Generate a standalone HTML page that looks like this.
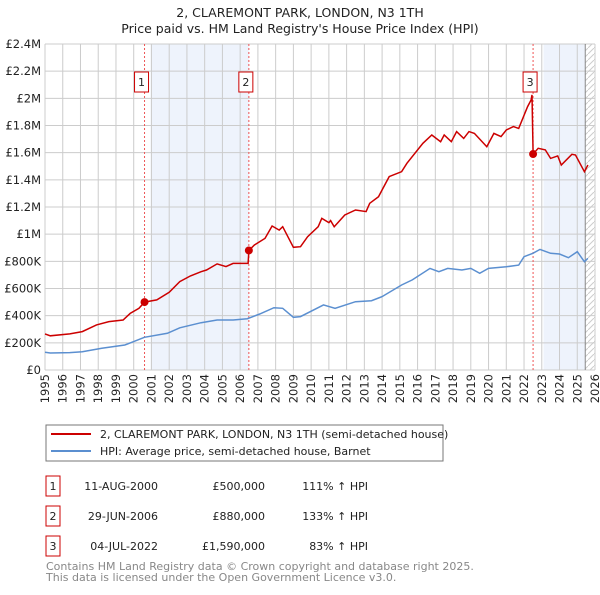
<!DOCTYPE html>
<html><head><meta charset="utf-8"><style>
body{margin:0;background:#fff;font-family:"Liberation Sans","DejaVu Sans",sans-serif;}
svg text{font-family:"DejaVu Sans","Liberation Sans",sans-serif;}
</style></head><body>
<svg id="c" width="600" height="590" xmlns="http://www.w3.org/2000/svg">
<defs><pattern id="hatch" width="6" height="6" patternUnits="userSpaceOnUse"><path d="M0,6 L6,0" stroke="#ccc" stroke-width="1"/></pattern></defs>
<text x="300" y="17" text-anchor="middle" font-size="12.5" fill="#222">2, CLAREMONT PARK, LONDON, N3 1TH</text>
<text x="300" y="33" text-anchor="middle" font-size="12.5" fill="#222">Price paid vs. HM Land Registry's House Price Index (HPI)</text>
<g id="plot"></g>
<g>
<rect x="46" y="425" width="397" height="36" fill="#fff" stroke="#777"/>
<line x1="51" y1="434" x2="91" y2="434" stroke="#cc0000" stroke-width="2"/>
<text x="100" y="438" font-size="11" fill="#222">2, CLAREMONT PARK, LONDON, N3 1TH (semi-detached house)</text>
<line x1="51" y1="451" x2="91" y2="451" stroke="#5b8fd0" stroke-width="2"/>
<text x="100" y="455" font-size="11" fill="#222">HPI: Average price, semi-detached house, Barnet</text>
</g>
<g id="table" font-size="11" fill="#222"></g>
<text x="46" y="570" font-size="11" fill="#888">Contains HM Land Registry data © Crown copyright and database right 2025.</text>
<text x="46" y="581" font-size="11" fill="#888">This data is licensed under the Open Government Licence v3.0.</text>
</svg>
<script>
const hpiYears=[1995,1995.3,1996.4,1997.1,1998.2,1999.5,2000,2000.6,2001.9,2002.6,2003.8,2004.7,2005.6,2006.4,2007.1,2007.9,2008.4,2009,2009.4,2010.7,2011.35,2012.5,2013.4,2014,2015.1,2015.7,2016.7,2017.2,2017.7,2018.5,2019,2019.5,2020,2021,2021.7,2022,2022.5,2022.9,2023.5,2024,2024.5,2025,2025.4,2025.6];
const hpiValues=[130,125,128,135,160,184,209,241,270,311,348,368,368,378,412,459,454,388,393,479,454,503,510,540,626,663,748,724,748,736,748,712,748,760,772,834,859,888,859,854,827,871,797,822];
const ppYears=[1995,1995.3,1996.4,1997.1,1997.9,1998.6,1999.4,1999.8,2000.3,2000.61,2001.3,2002,2002.6,2003.2,2003.8,2004.1,2004.7,2005.2,2005.6,2006.45,2006.49,2006.8,2007.4,2007.8,2008.2,2008.4,2009,2009.4,2009.8,2010.4,2010.6,2011,2011.1,2011.3,2011.9,2012.5,2013.1,2013.3,2013.8,2014.4,2015.1,2015.4,2016.3,2016.8,2017.3,2017.5,2017.9,2018.2,2018.6,2018.9,2019.2,2019.9,2020.3,2020.7,2021,2021.4,2021.7,2022.2,2022.4,2022.45,2022.51,2022.8,2023.2,2023.5,2023.9,2024.1,2024.7,2024.9,2025.4,2025.6];
const ppValues=[266,252,266,283,332,356,368,417,454,500,516,572,651,693,724,736,781,761,785,785,880,920,969,1060,1030,1055,903,908,981,1055,1117,1085,1100,1055,1141,1178,1166,1227,1276,1424,1460,1522,1669,1730,1681,1730,1681,1755,1705,1755,1742,1644,1742,1718,1767,1792,1779,1939,1988,2025,1590,1632,1620,1558,1576,1509,1588,1583,1460,1509];
const saleYears=[2000.61,2006.49,2022.51];
const saleValues=[500,880,1590];
const saleLabels=["1","2","3"];
const saleDates=["11-AUG-2000","29-JUN-2006","04-JUL-2022"];
const salePrices=["£500,000","£880,000","£1,590,000"];
const saleHpi=["111% ↑ HPI","133% ↑ HPI","83% ↑ HPI"];
const yTicks=[0,200,400,600,800,1000,1200,1400,1600,1800,2000,2200,2400];
const yTickLabels=["£0","£200K","£400K","£600K","£800K","£1M","£1.2M","£1.4M","£1.6M","£1.8M","£2M","£2.2M","£2.4M"];
const xTicks=[1995,1996,1997,1998,1999,2000,2001,2002,2003,2004,2005,2006,2007,2008,2009,2010,2011,2012,2013,2014,2015,2016,2017,2018,2019,2020,2021,2022,2023,2024,2025,2026];
const shadeStarts=[2000.95,2023.1];
const shadeEnds=[2006.49,2025.45];
const dataEnd=2025.45;

const NS="http://www.w3.org/2000/svg";
const L=45,R=595,T=44,B=370;
const xs=y=>L+(y-1995)/(2026-1995)*(R-L);
const ys=v=>B-v/2400*(B-T);
const plot=document.getElementById('plot');
function mk(tag,attrs,parent){const e=document.createElementNS(NS,tag);for(const k in attrs)e.setAttribute(k,attrs[k]);(parent||plot).appendChild(e);return e;}

let e;
shadeStarts.forEach((s,i)=>{
  e=mk('rect',{x:xs(s),y:T,width:xs(shadeEnds[i])-xs(s),height:B-T,fill:'#eef3fc'});
  
  
});
e=mk('rect',{x:xs(dataEnd),y:T,width:R-xs(dataEnd),height:B-T,fill:'url(#hatch)'});



yTicks.forEach((v,i)=>{
  e=mk('line',{x1:L,x2:R,y1:ys(v),y2:ys(v),stroke:'#cccccc','stroke-width':1});
  
  
  e=mk('text',{x:L-4,y:ys(v)+4,'text-anchor':'end','font-size':11.5,fill:'#222'});
  e.textContent=yTickLabels[i];
  
  
});
xTicks.forEach(y=>{
  e=mk('line',{x1:xs(y),x2:xs(y),y1:T,y2:B,stroke:'#cccccc','stroke-width':1});
  
  
  e=mk('text',{x:0,y:0,'text-anchor':'end','font-size':11.5,fill:'#222',transform:`translate(${xs(y)+4},${B+4}) rotate(-90)`});
  e.textContent=y;
  
  
});
e=mk('line',{x1:xs(dataEnd),x2:xs(dataEnd),y1:T,y2:B,stroke:'#888','stroke-width':1});



saleYears.forEach((y,i)=>{
  e=mk('line',{x1:xs(y),x2:xs(y),y1:T,y2:B,stroke:'#ee5555','stroke-width':1,'stroke-dasharray':'2,2'});
  
  
});

function pathOf(xa,va){return xa.map((y,i)=>(i?'L':'M')+xs(y).toFixed(1)+','+ys(va[i]).toFixed(1)).join(' ');}
e=mk('path',{d:pathOf(hpiYears,hpiValues),fill:'none',stroke:'#5b8fd0','stroke-width':1.5});


e=mk('path',{d:pathOf(ppYears,ppValues),fill:'none',stroke:'#cc0000','stroke-width':1.5});



saleYears.forEach((y,i)=>{
  e=mk('circle',{cx:xs(y),cy:ys(saleValues[i]),r:4,fill:'#cc0000'});
  
  
  const bx=xs(y)-10;
  e=mk('rect',{x:bx,y:72,width:14,height:20,fill:'#fff',stroke:'#cc0000'});
  
  
  e=mk('text',{x:bx+7,y:86,'text-anchor':'middle','font-size':11,fill:'#222'});
  e.textContent=saleLabels[i];
  
  
});

const tbl=document.getElementById('table');
saleLabels.forEach((lab,i)=>{
  const cy=486+i*30;
  e=mk('rect',{x:46,y:cy-10,width:14,height:20,fill:'#fff',stroke:'#cc0000'},tbl);
  
  
  e=mk('text',{x:53,y:cy+4,'text-anchor':'middle'},tbl);e.textContent=lab;
  
  
  e=mk('text',{x:158,y:cy+4,'text-anchor':'end'},tbl);e.textContent=saleDates[i];
  
  
  e=mk('text',{x:265,y:cy+4,'text-anchor':'end'},tbl);e.textContent=salePrices[i];
  
  
  e=mk('text',{x:368,y:cy+4,'text-anchor':'end'},tbl);e.textContent=saleHpi[i];
  
  
});
</script>
</body></html>
